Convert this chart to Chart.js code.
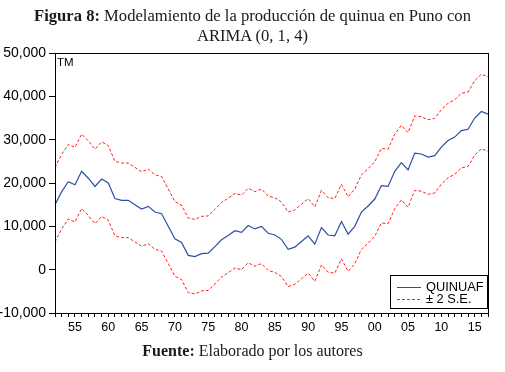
<!DOCTYPE html>
<html>
<head>
<meta charset="utf-8">
<script src="https://cdn.jsdelivr.net/npm/chart.js@4.4.1/dist/chart.umd.min.js"></script>
<style>
  html, body { margin: 0; padding: 0; background: #fff; }
  #wrap { position: relative; width: 505px; height: 372px; }
  #chart { position: absolute; left: 0; top: 0; }
  .cap { position: absolute; left: 0; width: 505px; text-align: center;
         font-family: "Liberation Serif", "DejaVu Serif", serif; color: #1a1a1a; }
  #title { top: 6px; font-size: 16.6px; line-height: 20px; }
  #foot { top: 342px; font-size: 16px; }
</style>
</head>
<body>
<div id="wrap">
  <canvas id="chart" width="505" height="372"></canvas>
  <div id="title" class="cap"><b>Figura 8:</b> Modelamiento de la producción de quinua en Puno con<br>ARIMA (0, 1, 4)</div>
  <div id="foot" class="cap"><b>Fuente:</b> Elaborado por los autores</div>
</div>
<script>
// years 1952..2017
const years = [
    1952, 1953, 1954, 1955, 1956, 1957, 1958, 1959, 1960, 1961,
    1962, 1963, 1964, 1965, 1966, 1967, 1968, 1969, 1970, 1971,
    1972, 1973, 1974, 1975, 1976, 1977, 1978, 1979, 1980, 1981,
    1982, 1983, 1984, 1985, 1986, 1987, 1988, 1989, 1990, 1991,
    1992, 1993, 1994, 1995, 1996, 1997, 1998, 1999, 2000, 2001,
    2002, 2003, 2004, 2005, 2006, 2007, 2008, 2009, 2010, 2011,
    2012, 2013, 2014, 2015, 2016, 2017,
];

// QUINUAF forecast (TM)
const quinuaf = [
    15000, 18000, 20300, 19600, 22700, 21100, 19200, 20900, 20000, 16400,
    16000, 16000, 15000, 14000, 14600, 13300, 12900, 10000, 7100, 6300,
    3300, 3000, 3700, 3800, 5300, 6900, 7900, 9000, 8600, 10200,
    9400, 10000, 8400, 8000, 7000, 4700, 5200, 6500, 7800, 5900,
    9700, 8000, 7800, 11100, 8200, 10000, 13300, 14700, 16300, 19400,
    19200, 22700, 24700, 23000, 26900, 26700, 26000, 26300, 28300, 29800,
    30600, 32100, 32400, 35000, 36500, 35900,
];

// +2 S.E.
const upperSE = [
    23600, 26600, 28900, 28200, 31300, 29700, 27800, 29500, 28600, 25000,
    24600, 24600, 23600, 22600, 23200, 21900, 21500, 18600, 15700, 14900,
    11900, 11600, 12300, 12400, 13900, 15500, 16500, 17600, 17200, 18800,
    18000, 18600, 17000, 16600, 15600, 13300, 13800, 15100, 16400, 14500,
    18300, 16600, 16400, 19700, 16800, 18600, 21900, 23300, 24900, 28000,
    27800, 31300, 33300, 31600, 35500, 35300, 34600, 34900, 36900, 38400,
    39200, 40700, 41000, 43600, 45100, 44500,
];

// -2 S.E.
const lowerSE = [
    6400, 9400, 11700, 11000, 14100, 12500, 10600, 12300, 11400, 7800,
    7400, 7400, 6400, 5400, 6000, 4700, 4300, 1400, -1500, -2300,
    -5300, -5600, -4900, -4800, -3300, -1700, -700, 400, 0, 1600,
    800, 1400, -200, -600, -1600, -3900, -3400, -2100, -800, -2700,
    1100, -600, -800, 2500, -400, 1400, 4700, 6100, 7700, 10800,
    10600, 14100, 16100, 14400, 18300, 18100, 17400, 17700, 19700, 21200,
    22000, 23500, 23800, 26400, 27900, 27300,
];

const BLUE = '#2c4ea6';
const RED = '#ff2020';
const SANS = 'Arial, "Liberation Sans", sans-serif';

// frame round the plot, "TM" unit and the boxed legend
const framePlugin = {
    id: 'frame',
    afterDraw(chart) {
        const { ctx, chartArea: a } = chart;
        ctx.save();
        ctx.strokeStyle = '#000';
        ctx.lineWidth = 1;
        ctx.strokeRect(a.left + 0.5, a.top + 0.5, a.right - a.left, a.bottom - a.top);

        ctx.fillStyle = '#000';
        ctx.font = `11.5px ${SANS}`;
        ctx.textBaseline = 'top';
        ctx.fillText('TM', a.left + 2, a.top + 4);

        // legend
        const lx = 390, ly = 275, lw = 98, lh = 34;
        ctx.fillStyle = '#fff';
        ctx.fillRect(lx, ly, lw, lh);
        ctx.strokeRect(lx + 0.5, ly + 0.5, lw - 1, lh - 1);
        ctx.font = `12.8px ${SANS}`;
        ctx.textBaseline = 'middle';
        ctx.fillStyle = '#000';
        ctx.strokeStyle = BLUE;
        ctx.beginPath();
        ctx.moveTo(397, 287.5);
        ctx.lineTo(421, 287.5);
        ctx.stroke();
        ctx.fillText('QUINUAF', 426, 287);
        ctx.strokeStyle = RED;
        ctx.setLineDash([3, 2]);
        ctx.beginPath();
        ctx.moveTo(397, 299.5);
        ctx.lineTo(421, 299.5);
        ctx.stroke();
        ctx.setLineDash([]);
        ctx.fillText('± 2 S.E.', 426, 299);
        ctx.restore();
    },
};

new Chart(document.getElementById('chart'), {
    type: 'line',
    data: {
        labels: years,
        datasets: [
            {
                label: 'QUINUAF',
                data: quinuaf,
                borderColor: BLUE,
                borderWidth: 1.2,
                pointRadius: 0,
                tension: 0,
            },
            {
                label: '± 2 S.E.',
                data: upperSE,
                borderColor: RED,
                borderWidth: 1,
                borderDash: [3, 2],
                pointRadius: 0,
                tension: 0,
            },
            {
                label: '± 2 S.E.',
                data: lowerSE,
                borderColor: RED,
                borderWidth: 1,
                borderDash: [3, 2],
                pointRadius: 0,
                tension: 0,
            },
        ],
    },
    options: {
        responsive: false,
        animation: false,
        layout: { padding: { left: 0, right: 17, top: 53, bottom: 37 } },
        plugins: {
            legend: { display: false },
            tooltip: { enabled: false },
        },
        scales: {
            x: {
                offset: false,
                grid: { display: true, drawOnChartArea: false, color: '#000', tickLength: 4 },
                border: { display: true, color: '#000' },
                ticks: {
                    autoSkip: false,
                    maxRotation: 0,
                    color: '#000',
                    padding: 3,
                    font: { family: SANS, size: 12.5 },
                    callback(v, i) {
                        const y = years[i];
                        return y % 5 === 0 ? String(y % 100).padStart(2, '0') : '';
                    },
                },
                afterFit(scale) {
                    scale.height = 22;
                },
            },
            y: {
                min: -10000,
                max: 50000,
                grid: { display: true, drawOnChartArea: false, color: '#000', tickLength: 6 },
                border: { display: true, color: '#000' },
                ticks: {
                    stepSize: 10000,
                    color: '#000',
                    padding: 3,
                    font: { family: SANS, size: 14 },
                    callback(v) {
                        return v.toLocaleString('en-US');
                    },
                },
                afterFit(scale) {
                    scale.width = 55;
                },
            },
        },
    },
    plugins: [framePlugin],
});
</script>
</body>
</html>
